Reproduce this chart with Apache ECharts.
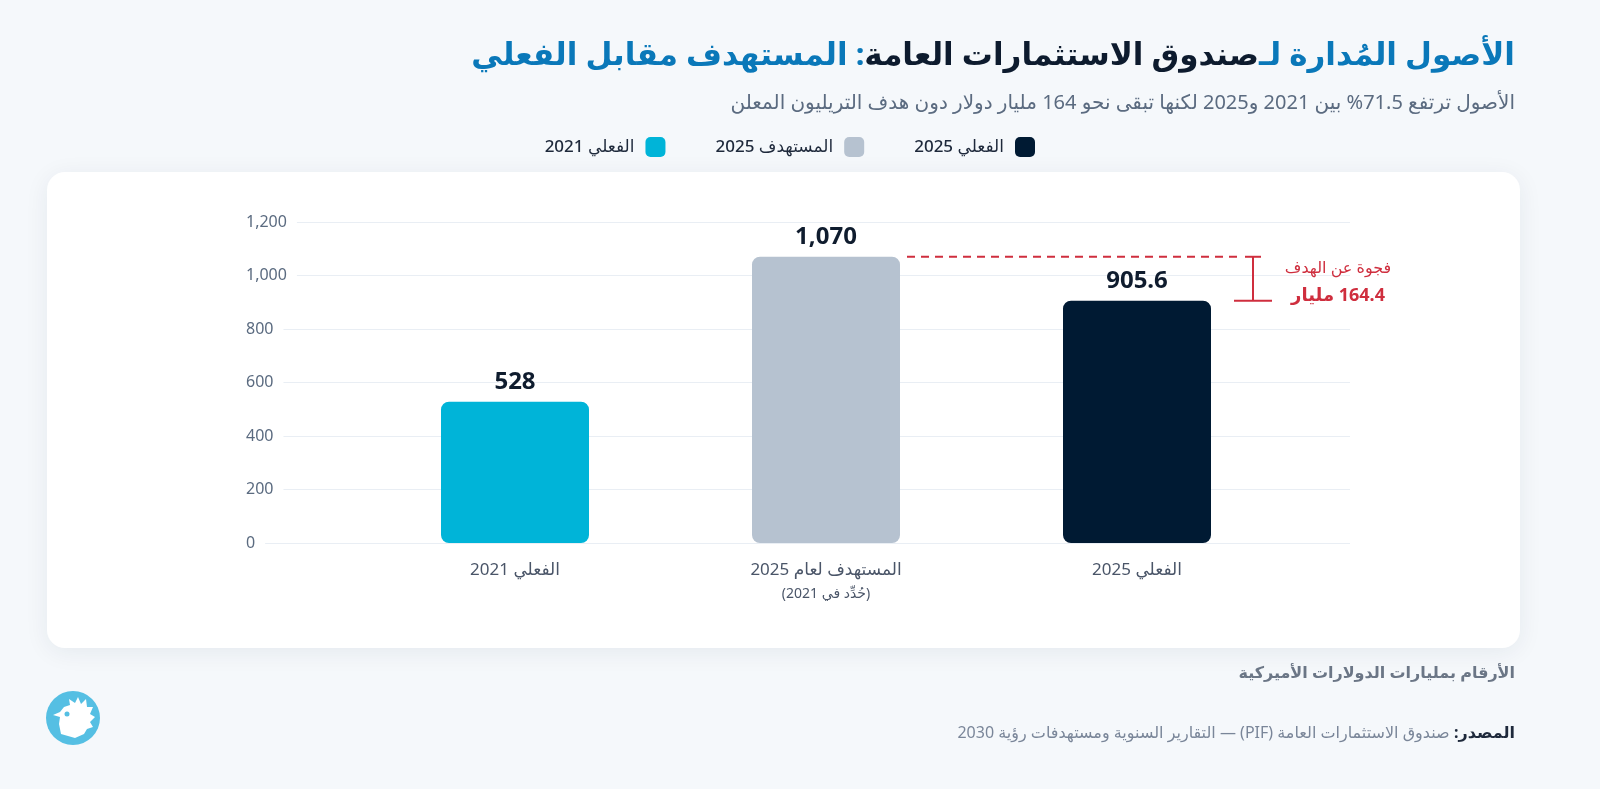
<!DOCTYPE html>
<html>
<head>
<meta charset="utf-8">
<script src="https://cdn.jsdelivr.net/npm/echarts@6/dist/echarts.min.js"></script>
<style>
html,body{margin:0;padding:0;background:#f5f8fb;}
#chart{width:1600px;height:789px;}
</style>
</head>
<body>
<div id="chart" dir="rtl"></div>
<script>
// ---- data ----
const categories = ['الفعلي 2021', 'المستهدف لعام 2025', 'الفعلي 2025'];
const categoryNotes = ['', '(حُدِّد في 2021)', ''];
const seriesNames = ['الفعلي 2021', 'المستهدف 2025', 'الفعلي 2025'];
const actual2021 = [528, null, null];
const target2025 = [null, 1070, null];
const actual2025 = [null, null, 905.6];
const yTicks = [0, 200, 400, 600, 800, 1000, 1200];
const gapLabel = 'فجوة عن الهدف';
const gapValue = 164.4;

const FONT = '"Noto Sans", "DejaVu Sans", sans-serif';
const colors = ['#00b4d8', '#b6c2d0', '#001a33'];
const BAR_W = 148;
const fmt = v => Number(v).toLocaleString('en-US');

const chart = echarts.init(document.getElementById('chart'));

const option = {
  backgroundColor: '#f5f8fb',
  textStyle: { fontFamily: FONT },
  animation: false,
  title: [
    {
      right: 80, top: 36,
      text: '{b|: المستهدف مقابل الفعلي}{d|صندوق الاستثمارات العامة}{b|الأصول المُدارة لـ}',
      textStyle: {
        rich: {
          b: { fontSize: 31, fontWeight: 'bold', color: '#0a78b9', fontFamily: FONT },
          d: { fontSize: 31, fontWeight: 'bold', color: '#0d1b2e', fontFamily: FONT }
        }
      }
    },
    {
      right: 80, top: 88,
      text: 'الأصول ترتفع 71.5% بين 2021 و2025 لكنها تبقى نحو 164 مليار دولار دون هدف التريليون المعلن',
      textStyle: { fontSize: 20, fontWeight: 'normal', color: '#5b6b80', fontFamily: FONT }
    },
    {
      right: 80, top: 660,
      text: 'الأرقام بمليارات الدولارات الأميركية',
      textStyle: { fontSize: 16, fontWeight: 600, color: '#6b7686', fontFamily: FONT }
    },
    {
      right: 80, top: 720,
      text: '{g| صندوق الاستثمارات العامة (PIF) — التقارير السنوية ومستهدفات رؤية 2030}{k|المصدر:}',
      textStyle: {
        fontWeight: 'normal',
        rich: {
          g: { fontSize: 16, fontWeight: 'normal', color: '#7a8699', fontFamily: FONT },
          k: { fontSize: 16, fontWeight: 'bold', color: '#1e293b', fontFamily: FONT }
        }
      }
    }
  ],
  legend: {
    right: 560, top: 132,
    align: 'right',
    itemWidth: 20, itemHeight: 20, itemGap: 50,
    icon: 'path://M5,0H15A5,5 0 0 1 20,5V15A5,5 0 0 1 15,20H5A5,5 0 0 1 0,15V5A5,5 0 0 1 5,0Z',
    data: [seriesNames[0], seriesNames[1], seriesNames[2]],
    textStyle: { fontSize: 17, fontWeight: 500, color: '#1e293b', fontFamily: FONT, padding: [0, 6, 0, 4] }
  },
  grid: [
    { left: 246, right: 250, top: 222, bottom: 246 },
    { left: 359.5, right: 307.5, top: 222, bottom: 246 }
  ],
  xAxis: [
    { type: 'value', gridIndex: 0, show: false, min: 0, max: 1 },
    {
      type: 'category', gridIndex: 1, data: categories,
      axisLine: { show: false }, axisTick: { show: false },
      axisLabel: {
        margin: 14,
        formatter: (val, idx) => categoryNotes[idx] ? '{m|' + val + '}\n{s|' + categoryNotes[idx] + '}' : '{m|' + val + '}',
        rich: {
          m: { fontSize: 17, color: '#4a5568', fontFamily: FONT, lineHeight: 26 },
          s: { fontSize: 14, color: '#4a5568', fontFamily: FONT, lineHeight: 22 }
        }
      }
    }
  ],
  yAxis: [
    {
      type: 'value', gridIndex: 0, min: yTicks[0], max: yTicks[yTicks.length - 1], interval: 200,
      axisLine: { show: false }, axisTick: { show: false },
      splitLine: { lineStyle: { color: '#e9eef4', width: 1 } },
      axisLabel: {
        inside: true, margin: 0, formatter: v => fmt(v),
        fontSize: 16, color: '#5b6b80', fontFamily: FONT,
        backgroundColor: '#ffffff', padding: [3, 10, 3, 0]
      },
      z: 3
    },
    { type: 'value', gridIndex: 1, min: yTicks[0], max: yTicks[yTicks.length - 1], interval: 200, show: false }
  ],
  series: [actual2021, target2025, actual2025].map((d, i) => ({
    name: seriesNames[i],
    type: 'bar',
    xAxisIndex: 1, yAxisIndex: 1,
    data: d,
    barWidth: BAR_W,
    barGap: '-100%',
    itemStyle: { color: colors[i], borderRadius: 8 },
    label: {
      show: true, position: 'top', distance: 8,
      formatter: p => fmt(p.value),
      fontSize: 24, fontWeight: 'bold', color: '#0f1c2e', fontFamily: FONT
    },
    z: 4
  }))
};

chart.setOption(option);

// ---- graphics derived from library scales ----
const tgt = chart.convertToPixel({ gridIndex: 1 }, [1, target2025[1]]);
const act = chart.convertToPixel({ gridIndex: 1 }, [2, actual2025[2]]);
const half = BAR_W / 2;
const red = '#cf2e3e';
const vx = act[0] + half + 42;

chart.setOption({
  graphic: [
    {
      type: 'rect', z: -10, silent: true,
      shape: { x: 47, y: 172, width: 1473, height: 476, r: 18 },
      style: { fill: '#ffffff', shadowBlur: 24, shadowColor: 'rgba(20,40,70,0.07)', shadowOffsetY: 4 }
    },
    {
      type: 'line', z: 10,
      shape: { x1: tgt[0] + half + 7, y1: tgt[1], x2: vx - 10, y2: tgt[1] },
      style: { stroke: red, lineWidth: 2, lineDash: [8, 6] }
    },
    {
      type: 'line', z: 10,
      shape: { x1: vx, y1: tgt[1], x2: vx, y2: act[1] },
      style: { stroke: red, lineWidth: 2 }
    },
    {
      type: 'line', z: 10,
      shape: { x1: vx - 8, y1: tgt[1], x2: vx + 8, y2: tgt[1] },
      style: { stroke: red, lineWidth: 2 }
    },
    {
      type: 'line', z: 10,
      shape: { x1: vx - 19, y1: act[1], x2: vx + 19, y2: act[1] },
      style: { stroke: red, lineWidth: 2 }
    },
    {
      type: 'text', z: 10,
      x: vx + 85, y: tgt[1] + 12,
      style: { text: gapLabel, fill: red, font: '500 16px ' + FONT, align: 'center', verticalAlign: 'middle' }
    },
    {
      type: 'text', z: 10,
      x: vx + 85, y: act[1] - 5,
      style: { text: gapValue + ' مليار', fill: red, font: 'bold 18px ' + FONT, align: 'center', verticalAlign: 'middle' }
    },
    {
      type: 'group', x: 73, y: 718,
      children: [
        { type: 'circle', shape: { cx: 0, cy: 0, r: 27 }, style: { fill: '#55bfe3' } },
        {
          type: 'polygon',
          shape: { points: [[-12,16],[-14,6],[-13,-1],[-20,-3],[-13,-6],[-9,-11],[-3,-13],[-4,-19],[2,-15],[5,-21],[8,-14],[13,-19],[14,-11],[20,-11],[17,-4],[22,-1],[17,4],[20,9],[14,11],[11,16],[2,20]] },
          style: { fill: '#ffffff' }
        },
        { type: 'circle', shape: { cx: -6, cy: -4, r: 2.5 }, style: { fill: '#55bfe3' } }
      ]
    }
  ]
});
</script>
</body>
</html>
